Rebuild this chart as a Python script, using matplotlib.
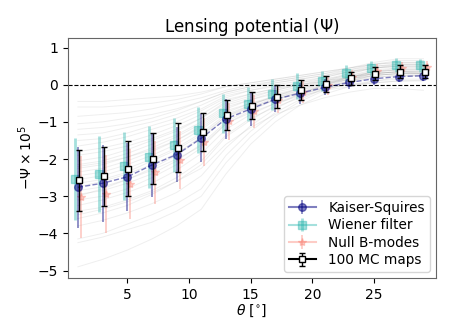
import numpy as np
import matplotlib
matplotlib.use("Agg")
import matplotlib.pyplot as plt

# bin centres in degrees
theta = [1, 3, 5, 7, 9, 11, 13, 15, 17, 19, 21, 23, 25, 27, 29]

# reconstructed maps (-psi x 1e5) and their errors
ks_vals = [-2.76, -2.65, -2.48, -2.16, -1.88, -1.44, -0.92, -0.65, -0.39, -0.23, -0.07, 0.06, 0.16, 0.22, 0.24]
ks_err = [1.09, 1.04, 0.92, 0.87, 0.73, 0.64, 0.53, 0.45, 0.35, 0.28, 0.22, 0.18, 0.16, 0.15, 0.15]

wf_vals = [-2.53, -2.40, -2.19, -1.94, -1.63, -1.23, -0.77, -0.51, -0.26, -0.03, 0.10, 0.31, 0.44, 0.53, 0.52]
wf_err = [1.10, 1.02, 0.91, 0.84, 0.73, 0.62, 0.52, 0.46, 0.41, 0.35, 0.28, 0.22, 0.20, 0.18, 0.18]

nb_vals = [-3.03, -2.94, -2.67, -2.36, -2.03, -1.54, -0.98, -0.72, -0.42, -0.20, -0.02, 0.20, 0.37, 0.45, 0.48]
nb_err = [1.10, 1.05, 0.95, 0.85, 0.78, 0.65, 0.50, 0.45, 0.35, 0.30, 0.25, 0.20, 0.18, 0.17, 0.17]

mc_vals = [-2.57, -2.46, -2.26, -1.99, -1.69, -1.28, -0.81, -0.56, -0.32, -0.15, 0.02, 0.17, 0.30, 0.35, 0.35]
mc_err = [0.82, 0.79, 0.74, 0.69, 0.65, 0.51, 0.41, 0.37, 0.30, 0.27, 0.22, 0.18, 0.17, 0.17, 0.18]

# a selection of the individual MC realisations (grey lines)
mc_lines = [
    [-4.90, -4.70, -4.45, -4.15, -3.80, -3.35, -2.40, -1.60, -1.00, -0.55, -0.25, -0.05, 0.10, 0.20, 0.25],
    [-4.25, -4.10, -3.90, -3.70, -3.40, -3.00, -2.10, -1.40, -0.85, -0.45, -0.15, 0.05, 0.20, 0.25, 0.25],
    [-4.15, -4.00, -3.75, -3.50, -3.20, -2.80, -1.90, -1.25, -0.75, -0.40, -0.10, 0.10, 0.25, 0.30, 0.30],
    [-3.80, -3.65, -3.45, -3.20, -2.90, -2.45, -1.70, -1.10, -0.65, -0.30, -0.05, 0.15, 0.30, 0.35, 0.35],
    [-3.60, -3.45, -3.25, -2.95, -2.60, -2.15, -1.40, -0.95, -0.55, -0.25, 0.00, 0.20, 0.35, 0.40, 0.40],
    [-3.50, -3.35, -3.15, -2.90, -2.60, -2.25, -1.60, -1.15, -0.80, -0.55, -0.35, -0.20, -0.10, -0.10, -0.15],
    [-3.40, -3.30, -3.10, -2.85, -2.50, -2.05, -1.35, -0.90, -0.60, -0.35, -0.10, 0.10, 0.25, 0.30, 0.28],
    [-3.25, -3.10, -2.90, -2.65, -2.30, -1.85, -1.20, -0.80, -0.50, -0.25, 0.00, 0.20, 0.35, 0.45, 0.45],
    [-3.10, -3.00, -2.80, -2.50, -2.15, -1.70, -1.05, -0.70, -0.40, -0.20, 0.00, 0.15, 0.30, 0.35, 0.35],
    [-3.00, -2.80, -2.55, -2.30, -2.00, -1.65, -1.05, -0.75, -0.50, -0.30, -0.15, -0.05, 0.05, 0.10, 0.10],
    [-2.95, -2.85, -2.65, -2.40, -2.05, -1.60, -1.00, -0.65, -0.40, -0.20, -0.05, 0.10, 0.20, 0.25, 0.25],
    [-2.85, -2.75, -2.55, -2.25, -1.90, -1.45, -0.90, -0.60, -0.35, -0.15, 0.05, 0.20, 0.35, 0.40, 0.40],
    [-2.75, -2.60, -2.40, -2.15, -1.85, -1.40, -0.85, -0.55, -0.30, -0.10, 0.05, 0.20, 0.30, 0.35, 0.30],
    [-2.65, -2.55, -2.35, -2.05, -1.75, -1.35, -0.85, -0.60, -0.40, -0.25, -0.10, 0.00, 0.10, 0.15, 0.15],
    [-2.55, -2.45, -2.25, -2.00, -1.70, -1.30, -0.80, -0.55, -0.30, -0.10, 0.10, 0.30, 0.45, 0.55, 0.55],
    [-2.45, -2.35, -2.15, -1.90, -1.60, -1.20, -0.75, -0.50, -0.30, -0.15, 0.00, 0.15, 0.25, 0.30, 0.30],
    [-2.35, -2.25, -2.05, -1.80, -1.50, -1.10, -0.65, -0.40, -0.20, -0.05, 0.10, 0.25, 0.40, 0.45, 0.45],
    [-2.25, -2.15, -1.95, -1.70, -1.40, -1.05, -0.60, -0.40, -0.25, -0.10, 0.05, 0.15, 0.25, 0.30, 0.30],
    [-2.20, -2.10, -1.95, -1.75, -1.50, -1.15, -0.70, -0.50, -0.35, -0.20, -0.10, 0.00, 0.05, 0.10, 0.12],
    [-2.15, -2.05, -1.85, -1.60, -1.35, -1.00, -0.55, -0.35, -0.15, 0.00, 0.15, 0.30, 0.45, 0.50, 0.50],
    [-2.05, -1.95, -1.75, -1.50, -1.25, -0.90, -0.50, -0.30, -0.15, 0.00, 0.10, 0.20, 0.30, 0.35, 0.35],
    [-1.90, -1.80, -1.65, -1.45, -1.20, -0.90, -0.45, -0.25, -0.10, 0.05, 0.20, 0.35, 0.50, 0.55, 0.55],
    [-1.80, -1.70, -1.55, -1.35, -1.10, -0.80, -0.40, -0.25, -0.10, 0.00, 0.10, 0.20, 0.30, 0.35, 0.32],
    [-1.65, -1.55, -1.40, -1.20, -1.00, -0.70, -0.35, -0.15, 0.00, 0.10, 0.20, 0.35, 0.45, 0.50, 0.50],
    [-1.50, -1.45, -1.30, -1.10, -0.90, -0.65, -0.30, -0.15, -0.05, 0.05, 0.15, 0.25, 0.35, 0.40, 0.40],
    [-1.35, -1.30, -1.15, -1.00, -0.80, -0.55, -0.25, -0.10, 0.05, 0.15, 0.25, 0.40, 0.55, 0.65, 0.65],
    [-1.20, -1.15, -1.05, -0.90, -0.70, -0.45, -0.20, -0.05, 0.05, 0.15, 0.25, 0.35, 0.45, 0.50, 0.50],
    [-1.05, -1.00, -0.90, -0.80, -0.65, -0.45, -0.20, -0.05, 0.10, 0.20, 0.30, 0.45, 0.55, 0.60, 0.60],
    [-0.85, -0.80, -0.75, -0.65, -0.50, -0.35, -0.15, 0.00, 0.10, 0.20, 0.30, 0.40, 0.50, 0.55, 0.55],
    [-0.60, -0.60, -0.55, -0.50, -0.40, -0.25, -0.05, 0.05, 0.15, 0.25, 0.35, 0.45, 0.55, 0.60, 0.60],
    [-0.45, -0.45, -0.40, -0.35, -0.30, -0.20, -0.05, 0.05, 0.15, 0.25, 0.35, 0.45, 0.60, 0.70, 0.70],
]

plt.rcParams["font.size"] = 10

fig = plt.figure(figsize=(4.58, 3.21), dpi=100)
ax = fig.add_axes([0.1485, 0.134, 0.803, 0.748])

th = np.array(theta)

for line in mc_lines:
    ax.plot(th, line, color="grey", alpha=0.13, lw=0.7, zorder=1)

ax.axhline(0, color="k", ls="--", lw=0.8, zorder=2)

eb_ks = ax.errorbar(th, ks_vals, yerr=ks_err, fmt="o", ls="-", color="navy",
                    alpha=0.5, ms=5.5, elinewidth=1.2, label="Kaiser-Squires", zorder=4)
eb_wf = ax.errorbar(th - 0.25, wf_vals, yerr=wf_err, fmt="s", ls="-", color="lightseagreen",
                    alpha=0.4, ms=5.5, elinewidth=2, label="Wiener filter", zorder=3)
eb_nb = ax.errorbar(th + 0.25, nb_vals, yerr=nb_err, fmt="*", ls="-", color="salmon",
                    alpha=0.4, ms=6, elinewidth=1.3, label="Null B-modes", zorder=3)
eb_mc = ax.errorbar(th + 0.1, mc_vals, yerr=mc_err, fmt="s", ls="-", color="k",
                    mfc="white", ms=4.5, elinewidth=1, capsize=2, label="100 MC maps", zorder=5)

ax.set_xlim(0.2, 30)
ax.set_ylim(-5.2, 1.26)
ax.set_xticks([5, 10, 15, 20, 25])
ax.set_yticks([-5, -4, -3, -2, -1, 0, 1])
ax.set_xlabel(r"$\theta$ [$^{\circ}$]", labelpad=1)
ax.set_ylabel(r"$-\Psi \times 10^5$", labelpad=2)
ax.set_title(r"Lensing potential ($\Psi$)", fontsize=12, pad=4)
for s in ax.spines.values():
    s.set_color("0.4")

ax.legend(loc="lower right", framealpha=0.8, fontsize=9.8, borderaxespad=0.45,
          handlelength=2.0, handletextpad=0.9, labelspacing=0.25, borderpad=0.35)

# legend handles already copied the solid line; now hide/dash the lines in the plot
eb_ks.lines[0].set_linestyle("--")
eb_ks.lines[0].set_linewidth(1)
eb_wf.lines[0].set_linestyle("none")
eb_nb.lines[0].set_linestyle("none")
eb_mc.lines[0].set_linestyle("none")

fig.savefig("out.png", dpi=100)
